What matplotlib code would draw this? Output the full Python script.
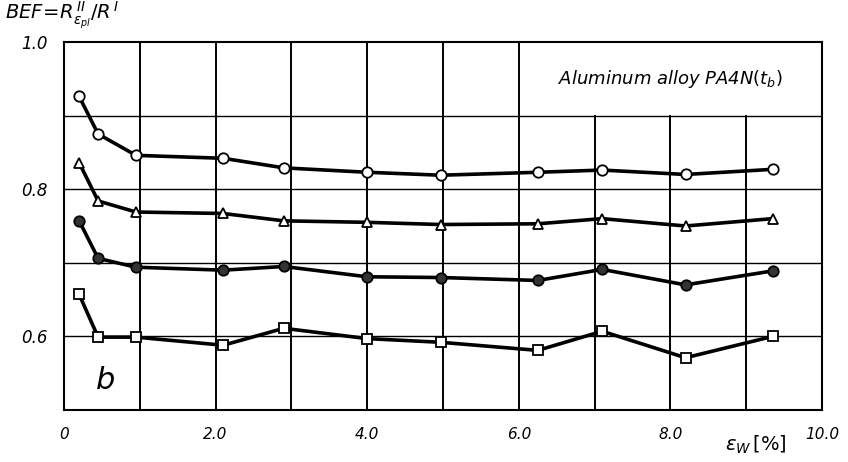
import matplotlib
matplotlib.use('Agg')
import matplotlib.pyplot as plt
import numpy as np

# strain eps_W [%] at which BEF was measured
eps_w = [0.2, 0.45, 0.95, 2.1, 2.9, 4.0, 4.97, 6.25, 7.1, 8.2, 9.35]

# BEF curves
bef_circle = [0.926, 0.875, 0.846, 0.842, 0.829, 0.823, 0.819, 0.823, 0.826, 0.820, 0.827]
bef_triangle = [0.836, 0.784, 0.769, 0.767, 0.757, 0.755, 0.752, 0.753, 0.760, 0.750, 0.760]
bef_dot = [0.757, 0.706, 0.694, 0.690, 0.695, 0.681, 0.680, 0.676, 0.691, 0.670, 0.689]
bef_square = [0.657, 0.599, 0.599, 0.588, 0.611, 0.597, 0.592, 0.581, 0.607, 0.571, 0.600]

x_ticks = [0, 2, 4, 6, 8, 10]
x_ticklabels = ['0', '2.0', '4.0', '6.0', '8.0', '10.0']
y_ticks = [0.6, 0.8, 1.0]
y_ticklabels = ['0.6', '0.8', '1.0']

plt.rcParams['font.family'] = ['DejaVu Sans']

fig = plt.figure(figsize=(8.48, 4.62), dpi=100)
ax = fig.add_axes([64 / 848, 1 - 410 / 462, (822 - 64) / 848, (410 - 42) / 462])
ax.set_xlim(0, 10)
ax.set_ylim(0.5, 1.0)

# grid: the top row from x=6 to 10 holds the label box, no verticals there
for gx in range(1, 10):
    top = 0.9 if gx > 6 else 1.0
    ax.plot([gx, gx], [0.5, top], color='black', lw=1.4, zorder=1)
for gy in [0.6, 0.7, 0.8, 0.9]:
    ax.plot([0, 10], [gy, gy], color='black', lw=1.0, zorder=1)

for sp in ax.spines.values():
    sp.set_linewidth(1.5)

line_kw = dict(color='black', lw=2.6, markersize=7.5, markeredgewidth=1.3,
               markeredgecolor='black', zorder=3)
ax.plot(eps_w, bef_circle, marker='o', markerfacecolor='white', **line_kw)
ax.plot(eps_w, bef_triangle, marker='^', markerfacecolor='white', **line_kw)
ax.plot(eps_w, bef_dot, marker='o', markerfacecolor='#333333', **line_kw)
ax.plot(eps_w, bef_square, marker='s', markerfacecolor='white', **line_kw)

ax.set_xticks(x_ticks)
ax.set_xticklabels(x_ticklabels, fontstyle='italic', fontsize=11)
ax.set_yticks(y_ticks)
ax.set_yticklabels(y_ticklabels, fontstyle='italic', fontsize=12)
ax.tick_params(length=0, pad=12)

ax.text(8.0, 0.95, r'Aluminum alloy PA4N$(t_b)$', fontstyle='italic', fontsize=13,
        ha='center', va='center')
ax.text(0.55, 0.54, 'b', fontstyle='italic', fontsize=22, ha='center', va='center')

fig.text(5 / 848, 1 - 15 / 462, r"$BEF\!=\!R^{\,II}_{\epsilon_{pl}}/R^{\,I}$",
         fontsize=14, ha='left', va='center')
fig.text(725 / 848, 1 - 445 / 462, r'$\epsilon_W\,[\%]$', fontsize=14,
         ha='left', va='center')

fig.savefig('out.png', dpi=100)
